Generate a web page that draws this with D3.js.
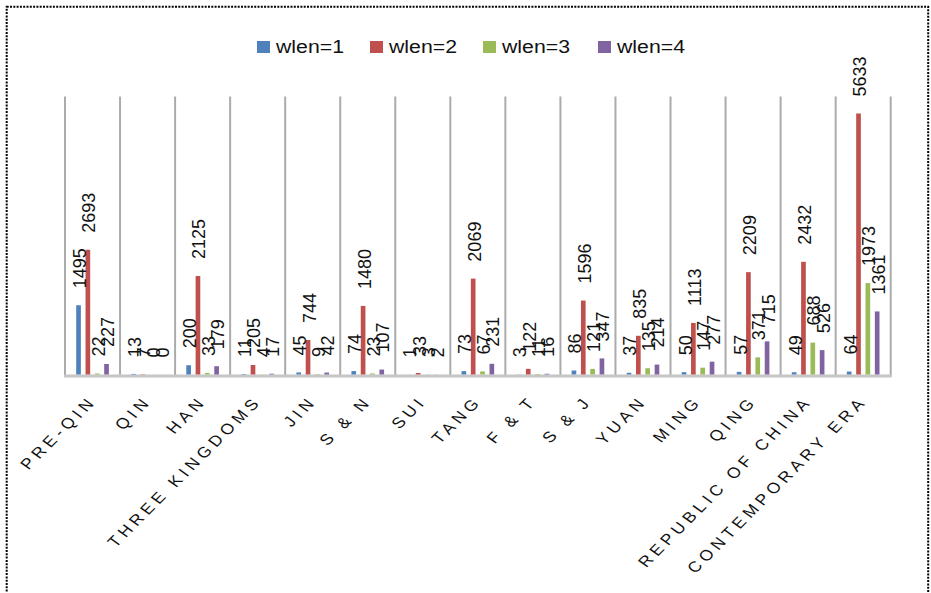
<!DOCTYPE html>
<html>
<head>
<meta charset="utf-8">
<script src="https://cdn.jsdelivr.net/npm/d3@7"></script>
<style>
  html, body { margin: 0; padding: 0; background: #fff; }
  svg { display: block; }
</style>
</head>
<body>
<script>
// Word counts by word length, per historical period
const categories = ["PRE-QIN", "QIN", "HAN", "THREE KINGDOMS", "JIN", "S & N", "SUI", "TANG",
  "F & T", "S & J", "YUAN", "MING", "QING", "REPUBLIC OF CHINA", "CONTEMPORARY ERA"];
const seriesNames = ["wlen=1", "wlen=2", "wlen=3", "wlen=4"];
const wlen1 = [1495, 13, 200, 11, 45, 74, 1, 73, 3, 86, 37, 50, 57, 49, 64];
const wlen2 = [2693, 7, 2125, 205, 744, 1480, 33, 2069, 122, 1596, 835, 1113, 2209, 2432, 5633];
const wlen3 = [22, 0, 33, 4, 9, 23, 3, 67, 11, 121, 135, 147, 371, 688, 1973];
const wlen4 = [227, 0, 179, 17, 42, 107, 2, 231, 16, 347, 214, 277, 715, 526, 1361];
const seriesColors = ["#4F81BD", "#C0504D", "#9BBB59", "#8064A2"];
const yMax = 6000;

const seriesValues = [wlen1, wlen2, wlen3, wlen4];
const W = 931, H = 593;
const plot = { left: 65, right: 890.7, top: 96.5, bottom: 374.5 };

const svg = d3.select("body").append("svg").attr("width", W).attr("height", H);

// dotted frame around the chart
svg.append("rect")
  .attr("x", 6.7).attr("y", 6.7).attr("width", 921.5).attr("height", 620)
  .attr("fill", "none").attr("stroke", "#000").attr("stroke-width", 2)
  .attr("stroke-dasharray", "2 1.3");

const x0 = d3.scaleBand().domain(categories).range([plot.left, plot.right]).padding(0);
const x1 = d3.scaleBand().domain(seriesNames).range([0, x0.bandwidth()])
  .paddingInner(0.5).paddingOuter(1.2);
const y = d3.scaleLinear().domain([0, yMax]).range([plot.bottom, plot.top]);

// category separators
const bounds = categories.map(c => x0(c)).concat([plot.right]);
svg.append("g").selectAll("line").data(bounds).join("line")
  .attr("x1", d => d).attr("x2", d => d)
  .attr("y1", plot.top).attr("y2", plot.bottom + 2)
  .attr("stroke", "#ababab").attr("stroke-width", 2);

// category axis line
svg.append("line")
  .attr("x1", plot.left - 1).attr("x2", plot.right + 1)
  .attr("y1", plot.bottom + 1.5).attr("y2", plot.bottom + 1.5)
  .attr("stroke", "#c6c6c6").attr("stroke-width", 3);

// bars
const groups = svg.append("g").selectAll("g").data(categories).join("g")
  .attr("transform", c => `translate(${x0(c)},0)`);

groups.selectAll("rect")
  .data((c, i) => seriesNames.map((s, k) => ({ s, k, v: seriesValues[k][i] })))
  .join("rect")
  .attr("x", d => x1(d.s))
  .attr("width", x1.bandwidth())
  .attr("y", d => y(d.v))
  .attr("height", d => plot.bottom - y(d.v))
  .attr("fill", d => seriesColors[d.k]);

// value labels, rotated above each bar
groups.selectAll("text")
  .data((c, i) => seriesNames.map((s, k) => ({ s, k, v: seriesValues[k][i] })))
  .join("text")
  .attr("transform", d => `translate(${x1(d.s) + x1.bandwidth() / 2 + 7.5},${y(d.v) - 17}) rotate(-90)`)
  .attr("text-anchor", "start")
  .attr("font-family", "'Liberation Sans', Arial, sans-serif")
  .attr("font-size", 18)
  .attr("fill", "#111")
  .text(d => d.v);

// category labels, slanted
svg.append("g").selectAll("text").data(categories).join("text")
  .attr("transform", c => `translate(${x0(c) + x0.bandwidth() / 2 + 5},${plot.bottom + 27}) scale(1.18,1) rotate(-49.7)`)
  .attr("text-anchor", "end")
  .attr("font-family", "'Liberation Sans', Arial, sans-serif")
  .attr("font-size", 15)
  .attr("letter-spacing", 4)
  .attr("fill", "#111")
  .text(c => c);

// legend
const legendX = [257, 370, 483, 598];
const legend = svg.append("g").selectAll("g").data(seriesNames).join("g")
  .attr("transform", (s, k) => `translate(${legendX[k]},41)`);
legend.append("rect")
  .attr("width", 13).attr("height", 12)
  .attr("fill", (s, k) => seriesColors[k]);
legend.append("text")
  .attr("x", 19).attr("y", 11.5)
  .attr("font-family", "'Liberation Sans', Arial, sans-serif")
  .attr("font-size", 18)
  .attr("textLength", 68).attr("lengthAdjust", "spacingAndGlyphs")
  .attr("fill", "#111")
  .text(s => s);
</script>
</body>
</html>
